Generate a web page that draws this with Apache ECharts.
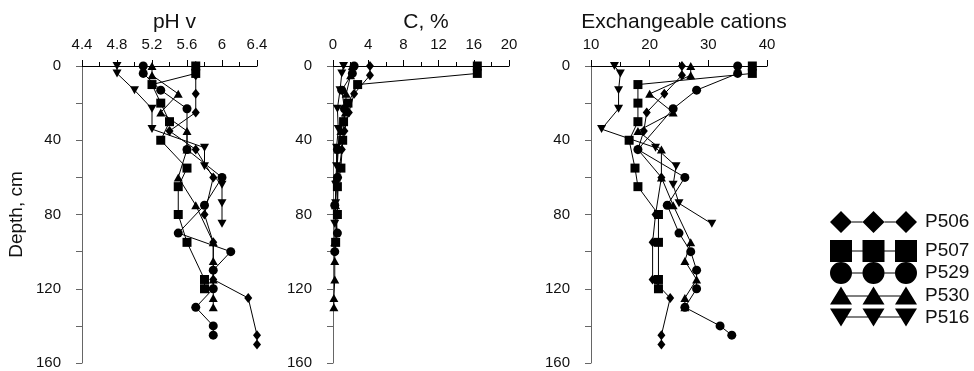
<!DOCTYPE html>
<html><head><meta charset="utf-8">
<script src="https://cdn.jsdelivr.net/npm/echarts@6/dist/echarts.min.js"></script>
<style>html,body{margin:0;padding:0;background:#fff}#c{width:974px;height:371px}</style>
</head><body><div id="c"></div>
<script>
// ---- data ----
const profiles = ['P506', 'P507', 'P529', 'P530', 'P516'];

const depthP506 = [0, 5, 15, 25, 35, 45, 60, 80, 95, 115, 125, 145, 150];
const phP506    = [5.7, 5.7, 5.7, 5.7, 5.4, 5.7, 5.9, 5.8, 5.9, 5.9, 6.3, 6.4, 6.4];
const cecP506   = [25.5, 25.5, 22.5, 19.5, 19, 18, 22, 21, 20.5, 20.5, 23.5, 22, 22];
const cDepthP506 = [0, 5, 15, 25, 35, 45, 60, 80];
const cP506      = [4.2, 4.2, 2.4, 1.8, 1.3, 1.0, 0.6, 0.5];

const depthP507 = [0, 4, 10, 20, 30, 40, 55, 65, 80, 95, 115, 120];
const phP507    = [5.7, 5.7, 5.2, 5.3, 5.4, 5.3, 5.6, 5.5, 5.5, 5.6, 5.8, 5.8];
const cecP507   = [37.5, 37.5, 18, 18, 18, 16.5, 17.5, 18, 21.5, 21.5, 21.5, 21.5];
const cDepthP507 = [0, 4, 10, 20, 30, 40, 55, 65, 80, 95];
const cP507      = [16.4, 16.4, 2.8, 1.7, 1.2, 1.1, 0.9, 0.5, 0.5, 0.3];

const depthP529 = [0, 4, 13, 23, 45, 60, 75, 90, 100, 110, 120, 130, 140, 145];
const phP529    = [5.1, 5.1, 5.3, 5.6, 5.6, 6.0, 5.8, 5.5, 6.1, 5.9, 5.9, 5.7, 5.9, 5.9];
const cecP529   = [35, 35, 28, 24, 18, 26, 23, 25, 27, 28, 28, 26, 32, 34];
const cDepthP529 = [0, 4, 13, 23, 45, 60, 75, 90, 100];
const cP529      = [2.4, 2.2, 1.0, 1.3, 0.5, 0.5, 0.2, 0.5, 0.2];

const depthP530 = [0, 5, 15, 25, 35, 45, 60, 75, 95, 105, 115, 125, 130];
const phP530    = [5.2, 5.2, 5.5, 5.3, 5.6, 5.6, 5.5, 5.7, 5.9, 5.9, 5.9, 5.9, 5.9];
const cecP530   = [27, 27, 20, 24, 18, 22, 22, 24, 27, 26, 28, 26, 26];
const cP530     = [2.2, 2.0, 1.5, 1.4, 0.9, 0.6, 0.4, 0.3, 0.2, 0.2, 0.2, 0.1, 0.1];

const depthP516 = [0, 4, 13, 23, 34, 44, 54, 64, 74, 85];
const phP516    = [4.8, 4.8, 5.0, 5.2, 5.2, 5.8, 5.8, 6.0, 6.0, 6.0];
const cecP516   = [14, 15, 14.7, 14.7, 11.8, 21, 24.5, 24, 25, 30.6];
const cP516     = [1.2, 1.0, 0.8, 0.5, 0.6, 0.4, 0.4, 0.3, 0.3, 0.2];

const panelTitles = ['pH v', 'C, %', 'Exchangeable cations'];
const yAxisTitle = 'Depth, cm';

// ---- build ----
const pairs = (xs, ds) => xs.map((v, i) => [v, ds[i]]);
const dataSets = {
  P506: [pairs(phP506, depthP506), pairs(cP506, cDepthP506), pairs(cecP506, depthP506)],
  P507: [pairs(phP507, depthP507), pairs(cP507, cDepthP507), pairs(cecP507, depthP507)],
  P529: [pairs(phP529, depthP529), pairs(cP529, cDepthP529), pairs(cecP529, depthP529)],
  P530: [pairs(phP530, depthP530), pairs(cP530, depthP530), pairs(cecP530, depthP530)],
  P516: [pairs(phP516, depthP516), pairs(cP516, depthP516), pairs(cecP516, depthP516)]
};
const symbols = {
  P506: {symbol: 'diamond', size: [8, 10]},
  P507: {symbol: 'rect', size: 9},
  P529: {symbol: 'circle', size: 9},
  P530: {symbol: 'triangle', size: [9, 8]},
  P516: {symbol: 'path://M0,0L10,0L5,9Z', size: [9, 8]}
};
const legendIcons = {
  P506: 'path://M0,11L11,0L22,11L11,22ZM32.5,11L43.5,0L54.5,11L43.5,22ZM65,11L76,0L87,11L76,22ZM22,10.5L32.5,10.5L32.5,11.5L22,11.5ZM54.5,10.5L65,10.5L65,11.5L54.5,11.5Z',
  P507: 'path://M0,0L22,0L22,22L0,22ZM32.5,0L54.5,0L54.5,22L32.5,22ZM65,0L87,0L87,22L65,22ZM22,10.5L32.5,10.5L32.5,11.5L22,11.5ZM54.5,10.5L65,10.5L65,11.5L54.5,11.5Z',
  P529: 'path://M0,11A11,11,0,1,1,22,11A11,11,0,1,1,0,11ZM32.5,11A11,11,0,1,1,54.5,11A11,11,0,1,1,32.5,11ZM65,11A11,11,0,1,1,87,11A11,11,0,1,1,65,11ZM22,10.5L32.5,10.5L32.5,11.5L22,11.5ZM54.5,10.5L65,10.5L65,11.5L54.5,11.5Z',
  P530: 'path://M0,18L11,0L22,18ZM32.5,18L43.5,0L54.5,18ZM65,18L76,0L87,18ZM16,9L38.5,9L38.5,10L16,10ZM48.5,9L71,9L71,10L48.5,10Z',
  P516: 'path://M0,0L22,0L11,18ZM32.5,0L54.5,0L43.5,18ZM65,0L87,0L76,18ZM16,8L38.5,8L38.5,9L16,9ZM48.5,8L71,8L71,9L48.5,9Z'
};
const legendTops = [211, 240, 262, 286, 308];
const legendHeights = [22, 22, 22, 18, 18];

const FONT = 'Liberation Sans, Arial, sans-serif';
const grids = [
  {left: 82, top: 66, width: 175, height: 297},
  {left: 333, top: 66, width: 176, height: 297},
  {left: 591, top: 66, width: 176, height: 297}
];
const xRanges = [[4.4, 6.4, 0.4], [0, 20, 4], [10, 40, 10]];

const xAxes = xRanges.map((r, i) => ({
  type: 'value', gridIndex: i, position: 'top', min: r[0], max: r[1], interval: r[2],
  axisLine: {show: true, lineStyle: {color: '#000', width: 1}},
  axisTick: {show: true, length: 6, lineStyle: {color: '#000'}},
  minorTick: {show: true, splitNumber: 2, length: 4, lineStyle: {color: '#000'}},
  axisLabel: {margin: 14, fontSize: 15, color: '#111', fontFamily: FONT,
    formatter: v => String(Math.round(v * 10) / 10)},
  splitLine: {show: false}
}));
const yAxes = grids.map((g, i) => ({
  type: 'value', gridIndex: i, inverse: true, min: 0, max: 160, interval: 40,
  name: i === 0 ? yAxisTitle : '', nameLocation: 'middle', nameGap: 56,
  nameTextStyle: {fontSize: 19, color: '#111', fontFamily: FONT},
  axisLine: {show: true, lineStyle: {color: '#666', width: 1}},
  axisTick: {show: true, length: 6, lineStyle: {color: '#666'}},
  minorTick: {show: true, splitNumber: 2, length: 6, lineStyle: {color: '#666'}},
  axisLabel: {margin: 21, fontSize: 15, color: '#111', fontFamily: FONT},
  splitLine: {show: false}
}));

const series = [];
profiles.forEach(p => {
  for (let i = 0; i < 3; i++) {
    series.push({
      type: 'line', name: p, xAxisIndex: i, yAxisIndex: i,
      data: dataSets[p][i],
      symbol: symbols[p].symbol, symbolSize: symbols[p].size, showAllSymbol: true,
      itemStyle: {color: '#000'},
      lineStyle: {color: '#000', width: 1},
      animation: false
    });
  }
});

const legends = profiles.map((p, i) => ({
  data: [{name: p, icon: legendIcons[p]}],
  left: 830, top: legendTops[i], padding: 0,
  itemWidth: 87, itemHeight: legendHeights[i], itemGap: 0,
  selectedMode: false,
  textStyle: {fontSize: 19, color: '#111', fontFamily: FONT, padding: [0, 0, 0, 3]}
}));

const titles = panelTitles.map((t, i) => ({
  text: t, left: grids[i].left + grids[i].width / 2, top: 7, textAlign: 'center',
  textStyle: {fontSize: 21, fontWeight: 'normal', color: '#111', fontFamily: FONT}
}));

const chart = echarts.init(document.getElementById('c'));
chart.setOption({
  animation: false,
  backgroundColor: '#fff',
  title: titles,
  legend: legends,
  grid: grids,
  xAxis: xAxes,
  yAxis: yAxes,
  series: series
});
</script></body></html>
